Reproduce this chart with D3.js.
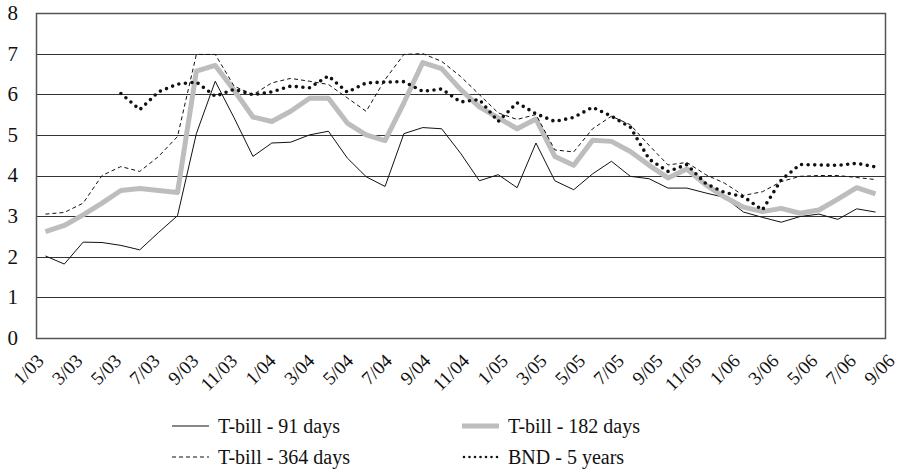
<!DOCTYPE html>
<html>
<head>
<meta charset="utf-8">
<script src="https://cdn.jsdelivr.net/npm/d3@7"></script>
<style>
  body { margin: 0; background: #fff; }
</style>
</head>
<body>
<div id="chart"></div>
<script>
// months 1/03 .. 9/06 (45 points)
const months = d3.range(45).map(i => {
  const m = (i % 12) + 1, y = 3 + Math.floor(i / 12);
  return m + "/0" + y;
});
const tickLabels = ["1/03","3/03","5/03","7/03","9/03","11/03","1/04","3/04","5/04","7/04","9/04","11/04",
  "1/05","3/05","5/05","7/05","9/05","11/05","1/06","3/06","5/06","7/06","9/06"];
const yTicks = [0, 1, 2, 3, 4, 5, 6, 7, 8];

const tbill91 = [2.02, 1.82, 2.36, 2.35, 2.28, 2.17, 2.6, 3.01, 5.03, 6.32, 5.42, 4.47, 4.8, 4.82, 5.0,
  5.09, 4.43, 3.97, 3.73, 5.03, 5.18, 5.15, 4.55, 3.87, 4.02, 3.7, 4.8, 3.87, 3.65, 4.04, 4.35, 3.98,
  3.92, 3.69, 3.69, 3.57, 3.46, 3.1, 2.97, 2.85, 2.99, 3.05, 2.92, 3.18, 3.1];
const tbill182 = [2.62, 2.77, 3.03, 3.32, 3.63, 3.68, 3.63, 3.58, 6.57, 6.71, 6.1, 5.44, 5.33, 5.58, 5.9,
  5.9, 5.29, 5.0, 4.86, 5.79, 6.78, 6.63, 6.12, 5.69, 5.42, 5.15, 5.39, 4.47, 4.25, 4.87, 4.84, 4.59,
  4.25, 3.94, 4.16, 3.77, 3.47, 3.22, 3.11, 3.19, 3.07, 3.15, 3.42, 3.7, 3.55];
const tbill364 = [3.05, 3.09, 3.32, 4.0, 4.22, 4.1, 4.47, 4.96, 6.98, 6.98, 6.2, 5.99, 6.28, 6.39, 6.32,
  6.24, 5.91, 5.58, 6.36, 6.98, 7.0, 6.81, 6.44, 5.99, 5.54, 5.38, 5.5, 4.63, 4.58, 5.15, 5.46, 5.25,
  4.74, 4.26, 4.32, 4.02, 3.81, 3.51, 3.6, 3.85, 3.98, 4.0, 4.0, 3.95, 3.9];
const bnd5 = [null, null, null, null, 6.02, 5.62, 6.06, 6.25, 6.3, 5.95, 6.12, 5.99, 6.06, 6.2, 6.16,
  6.45, 6.05, 6.28, 6.3, 6.31, 6.07, 6.13, 5.81, 5.87, 5.33, 5.79, 5.52, 5.33, 5.43, 5.68, 5.46, 5.19,
  4.4, 4.1, 4.27, 3.8, 3.58, 3.48, 3.15, 3.89, 4.27, 4.26, 4.25, 4.3, 4.21];

const series = [
  { name: "T-bill - 91 days", values: tbill91, stroke: "#111", width: 1, dash: null, cap: "butt" },
  { name: "T-bill - 182 days", values: tbill182, stroke: "#bdbdbd", width: 5, dash: null, cap: "butt" },
  { name: "T-bill - 364 days", values: tbill364, stroke: "#111", width: 1, dash: "4,3", cap: "butt" },
  { name: "BND - 5 years", values: bnd5, stroke: "#111", width: 3.6, dash: "0,6.6", cap: "round" }
];

const W = 900, H = 470;
const plot = { left: 36, right: 885, top: 13, bottom: 338 };
const FONT = "'Liberation Serif', 'DejaVu Serif', serif";

const svg = d3.select("#chart").append("svg")
  .attr("width", W).attr("height", H)
  .attr("font-family", FONT);

const x = d3.scalePoint().domain(months).range([plot.left, plot.right]).padding(0.5);
const y = d3.scaleLinear().domain([0, 8]).range([plot.bottom, plot.top]);
// label positions as drawn in the source (slightly wider spacing than the points)
const xl = d3.scalePoint().domain(tickLabels).range([45, 896]);

// gridlines
svg.append("g").selectAll("line").data(yTicks.filter(d => d > 0 && d < 8)).enter().append("line")
  .attr("x1", plot.left).attr("x2", plot.right)
  .attr("y1", d => Math.round(y(d)) + 0.5).attr("y2", d => Math.round(y(d)) + 0.5)
  .attr("stroke", "#333").attr("stroke-width", 1);

// frame
svg.append("rect")
  .attr("x", plot.left + 0.5).attr("y", plot.top + 0.5)
  .attr("width", plot.right - plot.left).attr("height", plot.bottom - plot.top)
  .attr("fill", "none").attr("stroke", "#555").attr("stroke-width", 1.5);

// y tick labels
svg.append("g").selectAll("text").data(yTicks).enter().append("text")
  .attr("x", 18).attr("y", d => y(d)).attr("dy", "0.33em")
  .attr("text-anchor", "end").attr("font-size", 21).attr("fill", "#111")
  .style("font-family", FONT)
  .text(d => d);

// x tick labels, rotated
svg.append("g").selectAll("text").data(tickLabels).enter().append("text")
  .attr("text-anchor", "end").attr("font-size", 19).attr("fill", "#111")
  .style("font-family", FONT)
  .attr("transform", d => `translate(${xl(d)},362) rotate(-45)`)
  .text(d => d);

// lines
const line = d3.line()
  .defined(d => d.v != null)
  .x(d => x(d.m)).y(d => y(d.v));

series.forEach(s => {
  const pts = months.map((m, i) => ({ m, v: s.values[i] }));
  svg.append("path")
    .datum(pts)
    .attr("fill", "none")
    .attr("stroke", s.stroke)
    .attr("stroke-width", s.width)
    .attr("stroke-dasharray", s.dash)
    .attr("stroke-linecap", s.cap)
    .attr("stroke-linejoin", "round")
    .attr("d", line);
});

// legend
const legendPos = [[172, 426], [462, 426], [172, 457], [462, 457]];
const lg = svg.append("g").selectAll("g").data(series).enter().append("g")
  .attr("transform", (d, i) => `translate(${legendPos[i][0]},${legendPos[i][1]})`);
lg.append("line")
  .attr("x1", d => d.cap === "round" ? 2 : 0).attr("x2", 37)
  .attr("y1", 0).attr("y2", 0)
  .attr("stroke", d => d.stroke)
  .attr("stroke-width", d => d.cap === "round" ? 2.6 : d.width)
  .attr("stroke-dasharray", d => d.cap === "round" ? "0,5.5" : d.dash)
  .attr("stroke-linecap", d => d.cap);
lg.append("text")
  .attr("x", 46).attr("y", 0).attr("dy", "0.33em")
  .attr("font-size", 20).attr("fill", "#111")
  .style("font-family", FONT)
  .text(d => d.name);
</script>
</body>
</html>
